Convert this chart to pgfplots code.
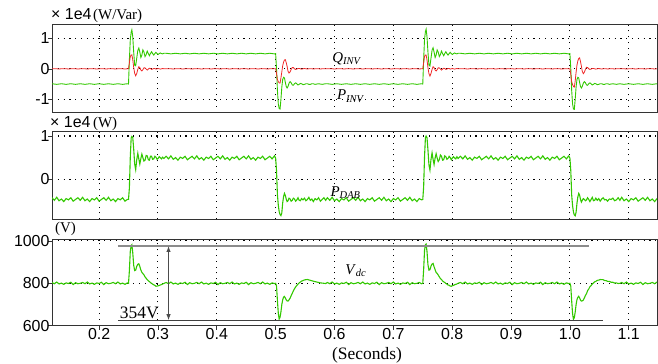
\documentclass[border=0pt]{standalone}
\usepackage{fontspec}
\setmainfont{Liberation Serif}
\newfontfamily\arial{Liberation Sans}
\usepackage{pgfplots}
\usepackage{pgfplotstable}
\pgfplotsset{compat=1.18}
\usetikzlibrary{arrows.meta}
\definecolor{sgreen}{RGB}{50,200,0}
\definecolor{sred}{RGB}{240,40,40}

\pgfplotstableread{
t P Q D V
0.120 -0.49 0.00 -0.43 804
0.124 -0.50 0.005 -0.49 798
0.128 -0.51 0.00 -0.42 806
0.132 -0.50 -0.005 -0.50 797
0.136 -0.49 0.00 -0.46 801
0.140 -0.50 0.005 -0.52 795
0.144 -0.51 0.00 -0.45 802
0.148 -0.50 -0.005 -0.48 799
0.152 -0.49 0.00 -0.43 805
0.156 -0.50 0.005 -0.51 794
0.160 -0.51 0.00 -0.47 803
0.164 -0.50 -0.005 -0.43 798
0.168 -0.49 0.00 -0.49 800
0.172 -0.50 0.005 -0.42 804
0.176 -0.51 0.00 -0.50 798
0.180 -0.50 -0.005 -0.46 806
0.184 -0.49 0.00 -0.52 797
0.188 -0.50 0.005 -0.45 801
0.192 -0.51 0.00 -0.48 795
0.196 -0.50 -0.005 -0.43 802
0.200 -0.49 0.00 -0.51 799
0.204 -0.50 0.005 -0.47 805
0.208 -0.51 0.00 -0.43 794
0.212 -0.50 -0.005 -0.49 803
0.216 -0.49 0.00 -0.42 798
0.220 -0.50 0.005 -0.50 800
0.224 -0.51 0.00 -0.46 804
0.228 -0.50 -0.005 -0.52 798
0.232 -0.49 0.00 -0.45 806
0.236 -0.50 0.005 -0.48 797
0.240 -0.51 0.00 -0.43 801
0.244 -0.50 -0.005 -0.51 795
0.248 -0.49 0.00 -0.47 802
0.2500 -0.50 0.00 -0.47 800
0.2515 0.30 0.20 -0.20 860
0.2530 0.95 0.40 0.50 950
0.2545 1.20 0.45 0.95 978
0.2557 1.28 0.46 0.99 982
0.2572 1.05 0.30 0.97 945
0.2588 0.55 0.05 0.70 885
0.2605 0.12 -0.15 0.35 860
0.2622 0.10 -0.23 0.22 862
0.2640 0.35 -0.15 0.45 880
0.2658 0.60 -0.02 0.60 890
0.2675 0.68 0.07 0.47 892
0.2692 0.55 0.04 0.35 880
0.2710 0.37 -0.04 0.48 862
0.2727 0.45 -0.07 0.58 852
0.2744 0.62 -0.03 0.50 846
0.2762 0.55 0.03 0.42 840
0.2781 0.40 0.03 0.44 830
0.2800 0.47 -0.01 0.55 824
0.2818 0.58 -0.04 0.54 817
0.2837 0.50 -0.01 0.45 812
0.2855 0.43 0.02 0.44 808
0.2873 0.50 0.01 0.53 803
0.2892 0.56 -0.02 0.53 800
0.2910 0.50 -0.01 0.46 796
0.2929 0.45 0.01 0.47 793
0.2948 0.50 0.01 0.53 790
0.2966 0.54 -0.01 0.51 786
0.2985 0.50 0.00 0.46 787
0.3003 0.47 0.01 0.48 788
0.3022 0.50 0.00 0.52 790
0.3040 0.52 -0.01 0.50 792
0.3060 0.50 0.00 0.47 794
0.3080 0.49 0.01 0.51 797
0.3100 0.51 0.00 0.48 799
0.314 0.51 0.00 0.53 804
0.318 0.50 0.005 0.47 798
0.322 0.49 0.00 0.54 806
0.326 0.50 -0.005 0.46 797
0.330 0.51 0.00 0.50 801
0.334 0.50 0.005 0.44 795
0.338 0.49 0.00 0.51 802
0.342 0.50 -0.005 0.48 799
0.346 0.51 0.00 0.53 805
0.350 0.50 0.005 0.45 794
0.354 0.49 0.00 0.49 803
0.358 0.50 -0.005 0.53 798
0.362 0.51 0.00 0.47 800
0.366 0.50 0.005 0.54 804
0.370 0.49 0.00 0.46 798
0.374 0.50 -0.005 0.50 806
0.378 0.51 0.00 0.44 797
0.382 0.50 0.005 0.51 801
0.386 0.49 0.00 0.48 795
0.390 0.50 -0.005 0.53 802
0.394 0.51 0.00 0.45 799
0.398 0.50 0.005 0.49 805
0.402 0.49 0.00 0.53 794
0.406 0.50 -0.005 0.47 803
0.410 0.51 0.00 0.54 798
0.414 0.50 0.005 0.46 800
0.418 0.49 0.00 0.50 804
0.422 0.50 -0.005 0.44 798
0.426 0.51 0.00 0.51 806
0.430 0.50 0.005 0.48 797
0.434 0.49 0.00 0.53 801
0.438 0.50 -0.005 0.45 795
0.442 0.51 0.00 0.49 802
0.446 0.50 0.005 0.53 799
0.450 0.49 0.00 0.47 805
0.454 0.50 -0.005 0.54 794
0.458 0.51 0.00 0.46 803
0.462 0.50 0.005 0.50 798
0.466 0.49 0.00 0.44 800
0.470 0.50 -0.005 0.51 804
0.474 0.51 0.00 0.48 798
0.478 0.50 0.005 0.53 806
0.482 0.49 0.00 0.45 797
0.486 0.50 -0.005 0.49 801
0.490 0.51 0.00 0.53 795
0.494 0.50 0.005 0.47 802
0.498 0.49 0.00 0.54 799
0.5000 0.50 0.00 0.49 800
0.5015 0.00 -0.15 0.20 788
0.5030 -0.70 -0.35 -0.35 720
0.5045 -1.15 -0.42 -0.60 660
0.5060 -1.30 -0.46 -0.75 631
0.5075 -1.32 -0.47 -0.82 640
0.5090 -1.00 -0.30 -0.845 665
0.5105 -0.60 -0.10 -0.78 700
0.5120 -0.35 0.10 -0.55 722
0.5135 -0.28 0.22 -0.40 735
0.5150 -0.30 0.29 -0.33 738
0.5165 -0.45 0.30 -0.38 730
0.5180 -0.58 0.20 -0.46 722
0.5195 -0.63 0.08 -0.52 717
0.5210 -0.58 -0.08 -0.50 716
0.5228 -0.47 -0.14 -0.44 722
0.5246 -0.42 -0.10 -0.46 730
0.5264 -0.46 -0.02 -0.51 742
0.5282 -0.53 0.04 -0.49 752
0.5300 -0.54 0.04 -0.44 764
0.5320 -0.49 0.00 -0.46 774
0.5340 -0.46 -0.02 -0.51 783
0.5360 -0.49 -0.01 -0.48 790
0.5380 -0.53 0.01 -0.43 796
0.5400 -0.51 0.01 -0.49 802
0.5420 -0.48 0.00 -0.50 806
0.5440 -0.49 -0.01 -0.45 810
0.5465 -0.52 0.00 -0.48 813
0.5490 -0.51 0.01 -0.44 816
0.5515 -0.49 0.00 -0.50 817
0.5540 -0.49 -0.005 -0.47 818
0.5565 -0.51 0.00 -0.42 816
0.5590 -0.51 0.005 -0.49 814
0.5615 -0.49 0.00 -0.46 812
0.5640 -0.49 -0.005 -0.52 810
0.5670 -0.51 0.00 -0.45 808
0.5700 -0.50 0.005 -0.48 806
0.5730 -0.49 0.00 -0.43 804
0.5760 -0.50 -0.005 -0.51 802
0.5790 -0.51 0.00 -0.47 801
0.5820 -0.50 0.005 -0.43 800
0.5850 -0.49 0.00 -0.49 799
0.588 -0.49 0.00 -0.43 804
0.592 -0.50 0.005 -0.49 798
0.596 -0.51 0.00 -0.42 806
0.600 -0.50 -0.005 -0.50 797
0.604 -0.49 0.00 -0.46 801
0.608 -0.50 0.005 -0.52 795
0.612 -0.51 0.00 -0.45 802
0.616 -0.50 -0.005 -0.48 799
0.620 -0.49 0.00 -0.43 805
0.624 -0.50 0.005 -0.51 794
0.628 -0.51 0.00 -0.47 803
0.632 -0.50 -0.005 -0.43 798
0.636 -0.49 0.00 -0.49 800
0.640 -0.50 0.005 -0.42 804
0.644 -0.51 0.00 -0.50 798
0.648 -0.50 -0.005 -0.46 806
0.652 -0.49 0.00 -0.52 797
0.656 -0.50 0.005 -0.45 801
0.660 -0.51 0.00 -0.48 795
0.664 -0.50 -0.005 -0.43 802
0.668 -0.49 0.00 -0.51 799
0.672 -0.50 0.005 -0.47 805
0.676 -0.51 0.00 -0.43 794
0.680 -0.50 -0.005 -0.49 803
0.684 -0.49 0.00 -0.42 798
0.688 -0.50 0.005 -0.50 800
0.692 -0.51 0.00 -0.46 804
0.696 -0.50 -0.005 -0.52 798
0.700 -0.49 0.00 -0.45 806
0.704 -0.50 0.005 -0.48 797
0.708 -0.51 0.00 -0.43 801
0.712 -0.50 -0.005 -0.51 795
0.716 -0.49 0.00 -0.47 802
0.720 -0.50 0.005 -0.43 799
0.724 -0.51 0.00 -0.49 805
0.728 -0.50 -0.005 -0.42 794
0.732 -0.49 0.00 -0.50 803
0.736 -0.50 0.005 -0.46 798
0.740 -0.51 0.00 -0.52 800
0.744 -0.50 -0.005 -0.45 804
0.748 -0.49 0.00 -0.48 798
0.7500 -0.50 0.00 -0.47 800
0.7515 0.30 0.20 -0.18 865
0.7530 0.97 0.41 0.52 955
0.7545 1.22 0.45 0.96 982
0.7557 1.30 0.45 1.00 985
0.7572 1.05 0.29 0.96 950
0.7588 0.55 0.04 0.68 888
0.7605 0.12 -0.16 0.33 862
0.7622 0.09 -0.24 0.21 864
0.7640 0.35 -0.15 0.46 881
0.7658 0.61 -0.02 0.61 891
0.7675 0.69 0.07 0.46 894
0.7692 0.55 0.04 0.34 878
0.7710 0.37 -0.04 0.49 864
0.7727 0.45 -0.07 0.59 851
0.7744 0.62 -0.03 0.49 847
0.7762 0.55 0.03 0.41 839
0.7781 0.40 0.03 0.45 831
0.7800 0.47 -0.01 0.56 822
0.7818 0.58 -0.04 0.53 818
0.7837 0.50 -0.01 0.44 811
0.7855 0.43 0.02 0.45 807
0.7873 0.50 0.01 0.54 804
0.7892 0.56 -0.02 0.52 799
0.7910 0.50 -0.01 0.46 797
0.7929 0.45 0.01 0.48 792
0.7948 0.50 0.01 0.53 791
0.7966 0.54 -0.01 0.50 787
0.7985 0.50 0.00 0.45 786
0.8003 0.47 0.01 0.49 789
0.8022 0.50 0.00 0.52 790
0.8040 0.52 -0.01 0.49 793
0.8060 0.50 0.00 0.47 795
0.8080 0.49 0.01 0.52 797
0.8100 0.51 0.00 0.48 800
0.814 0.51 0.00 0.53 804
0.818 0.50 0.005 0.47 798
0.822 0.49 0.00 0.54 806
0.826 0.50 -0.005 0.46 797
0.830 0.51 0.00 0.50 801
0.834 0.50 0.005 0.44 795
0.838 0.49 0.00 0.51 802
0.842 0.50 -0.005 0.48 799
0.846 0.51 0.00 0.53 805
0.850 0.50 0.005 0.45 794
0.854 0.49 0.00 0.49 803
0.858 0.50 -0.005 0.53 798
0.862 0.51 0.00 0.47 800
0.866 0.50 0.005 0.54 804
0.870 0.49 0.00 0.46 798
0.874 0.50 -0.005 0.50 806
0.878 0.51 0.00 0.44 797
0.882 0.50 0.005 0.51 801
0.886 0.49 0.00 0.48 795
0.890 0.50 -0.005 0.53 802
0.894 0.51 0.00 0.45 799
0.898 0.50 0.005 0.49 805
0.902 0.49 0.00 0.53 794
0.906 0.50 -0.005 0.47 803
0.910 0.51 0.00 0.54 798
0.914 0.50 0.005 0.46 800
0.918 0.49 0.00 0.50 804
0.922 0.50 -0.005 0.44 798
0.926 0.51 0.00 0.51 806
0.930 0.50 0.005 0.48 797
0.934 0.49 0.00 0.53 801
0.938 0.50 -0.005 0.45 795
0.942 0.51 0.00 0.49 802
0.946 0.50 0.005 0.53 799
0.950 0.49 0.00 0.47 805
0.954 0.50 -0.005 0.54 794
0.958 0.51 0.00 0.46 803
0.962 0.50 0.005 0.50 798
0.966 0.49 0.00 0.44 800
0.970 0.50 -0.005 0.51 804
0.974 0.51 0.00 0.48 798
0.978 0.50 0.005 0.53 806
0.982 0.49 0.00 0.45 797
0.986 0.50 -0.005 0.49 801
0.990 0.51 0.00 0.53 795
0.994 0.50 0.005 0.47 802
0.998 0.49 0.00 0.54 799
1.0000 0.50 0.00 0.49 800
1.0015 0.00 -0.18 0.20 786
1.0030 -0.70 -0.42 -0.36 718
1.0045 -1.15 -0.52 -0.61 658
1.0060 -1.32 -0.58 -0.76 630
1.0075 -1.33 -0.60 -0.83 638
1.0090 -1.00 -0.40 -0.85 664
1.0105 -0.60 -0.12 -0.77 699
1.0120 -0.35 0.12 -0.56 723
1.0135 -0.28 0.26 -0.41 734
1.0150 -0.30 0.34 -0.33 739
1.0165 -0.45 0.36 -0.37 731
1.0180 -0.58 0.24 -0.47 721
1.0195 -0.63 0.09 -0.53 716
1.0210 -0.58 -0.08 -0.49 717
1.0228 -0.47 -0.16 -0.45 721
1.0246 -0.42 -0.11 -0.47 731
1.0264 -0.46 -0.02 -0.50 743
1.0282 -0.53 0.05 -0.48 751
1.0300 -0.54 0.04 -0.43 765
1.0320 -0.49 0.00 -0.47 773
1.0340 -0.46 -0.02 -0.52 784
1.0360 -0.49 -0.01 -0.47 789
1.0380 -0.53 0.01 -0.42 797
1.0400 -0.51 0.01 -0.50 801
1.0420 -0.48 0.00 -0.49 807
1.0440 -0.49 -0.01 -0.44 809
1.0465 -0.52 0.00 -0.49 814
1.0490 -0.51 0.01 -0.45 815
1.0515 -0.49 0.00 -0.51 818
1.0540 -0.49 -0.005 -0.46 817
1.0565 -0.51 0.00 -0.43 817
1.0590 -0.51 0.005 -0.48 813
1.0615 -0.49 0.00 -0.47 813
1.0640 -0.49 -0.005 -0.51 809
1.0670 -0.51 0.00 -0.46 809
1.0700 -0.50 0.005 -0.47 805
1.0730 -0.49 0.00 -0.44 805
1.0760 -0.50 -0.005 -0.50 801
1.0790 -0.51 0.00 -0.48 802
1.0820 -0.50 0.005 -0.43 799
1.0850 -0.49 0.00 -0.49 800
1.088 -0.50 0.005 -0.42 804
1.092 -0.51 0.00 -0.50 798
1.096 -0.50 -0.005 -0.46 806
1.100 -0.49 0.00 -0.52 797
1.104 -0.50 0.005 -0.45 801
1.108 -0.51 0.00 -0.48 795
1.112 -0.50 -0.005 -0.43 802
1.116 -0.49 0.00 -0.51 799
1.120 -0.50 0.005 -0.47 805
1.124 -0.51 0.00 -0.43 794
1.128 -0.50 -0.005 -0.49 803
1.132 -0.49 0.00 -0.42 798
1.136 -0.50 0.005 -0.50 800
1.140 -0.51 0.00 -0.46 804
1.144 -0.50 -0.005 -0.52 798
1.148 -0.49 0.00 -0.45 806
}\data

\newcommand\tfont{\arial\fontsize{16}{18}\selectfont}
\newcommand\ufont{\fontsize{15}{17}\selectfont}

\pgfplotsset{
  panel/.style={
    scale only axis, width=605bp,
    xmin=0.12, xmax=1.148,
    xtick={0.2,0.3,0.4,0.5,0.6,0.7,0.8,0.9,1.0,1.1},
    axis line style={line width=0.6pt, black!80},
    grid=major,
    major grid style={black, line width=1.1bp, dash pattern=on 1.1bp off 4.7bp},
    tick align=outside, tick pos=left,
    major tick length=4bp,
    tick style={black!80, line width=0.6pt},
    ticklabel style={font=\tfont},
    xticklabel style={yshift=4.5bp},
    yticklabel style={xshift=5bp},
    clip=true,
  }
}

\begin{document}
\begin{tikzpicture}
\path[use as bounding box] (0,0) rectangle (658bp,364bp);

\begin{axis}[panel, at={(52bp,251.3bp)}, anchor=south west, height=88.7bp,
  ymin=-1.44, ymax=1.47, ytick={-1,0,1}, yticklabels={-1,0,1},
  xticklabels={}, xtick style={draw=none}]
\addplot[sgreen, line width=0.9pt] table[x=t,y=P]{\data};
\addplot[sred, line width=0.8pt] table[x=t,y=Q]{\data};
\node[anchor=base west, font=\ufont, inner sep=0pt] at (axis cs:0.596,0.2) {\textit{Q}\textsubscript{\textit{INV}}};
\node[anchor=base west, font=\ufont, inner sep=0pt] at (axis cs:0.604,-1.02) {\textit{P}\textsubscript{\textit{INV}}};
\end{axis}

\begin{axis}[panel, at={(52bp,144.7bp)}, anchor=south west, height=87.6bp,
  ymin=-0.93, ymax=1.1, ytick={0,1}, yticklabels={0,1},
  xticklabels={}, xtick style={draw=none}]
\addplot[sgreen, line width=1.1pt] table[x=t,y=D]{\data};
\node[anchor=base west, font=\ufont, inner sep=0pt] at (axis cs:0.593,-0.40) {\textit{P}\textsubscript{\textit{DAB}}};
\end{axis}

\begin{axis}[panel, at={(52bp,38.3bp)}, anchor=south west, height=86.7bp,
  ymin=600, ymax=1009, ytick={600,800,1000}, yticklabels={600,800,1000},
  xticklabels={0.2,0.3,0.4,0.5,0.6,0.7,0.8,0.9,1.0,1.1}]
\addplot[sgreen, line width=1.1pt] table[x=t,y=V]{\data};
\draw[black!45, line width=2bp] (axis cs:0.232,978) -- (axis cs:1.033,978);
\draw[black!75, line width=0.9bp] (axis cs:0.232,624) -- (axis cs:1.056,624);
\draw[black!70, line width=0.9bp, {Latex[length=6bp,width=4.5bp]}-{Latex[length=6bp,width=4.5bp]}] (axis cs:0.318,976) -- (axis cs:0.318,626);
\node[anchor=base west, font=\fontsize{17.5}{19}\selectfont, inner sep=0pt] at (axis cs:0.235,633) {354V};
\node[anchor=base west, font=\ufont, inner sep=0pt] at (axis cs:0.618,843) {\textit{V}\textsubscript{\textit{dc}}};
\end{axis}

\node[anchor=base west, inner sep=0pt] at (51bp,344bp) {{\tfont × 1e4}\,{\ufont (W/Var)}};
\node[anchor=base west, inner sep=0pt] at (50bp,236bp) {{\tfont × 1e4} {\ufont (W)}};
\node[anchor=base west, inner sep=0pt] at (55bp,131bp) {{\ufont (V)}};
\node[anchor=base, inner sep=0pt] at (367bp,5bp) {\fontsize{17.5}{19}\selectfont (Seconds)};
\end{tikzpicture}
\end{document}
